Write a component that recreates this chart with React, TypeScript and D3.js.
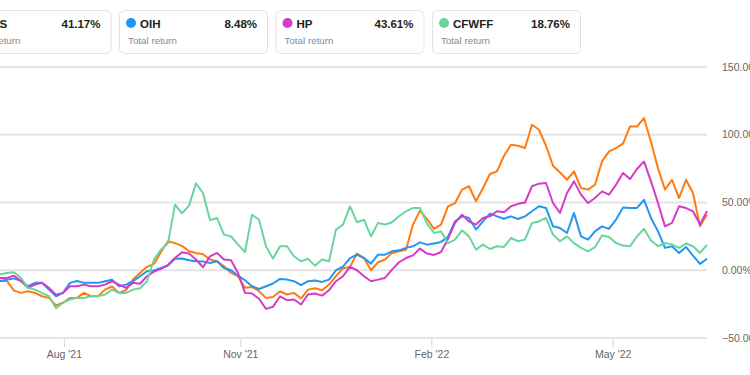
import { useMemo } from "react";
import * as d3 from "d3";

const W = 750;
const H = 375;

// total return (%) sampled along the visible window, left to right
const pds = [
  -8, -8, -15, -16.7, -15.5, -16.7, -19.2, -20.4, -26, -24, -20.4, -20.4, -16.7, -19.2, -19.2, -14.3, -12, -16.7,
  -14.7, -6.9, -2, 2.5, 4.7, 13.5, 21.4, 20, 18, 14, 12.8, 11.8, 7.9, 6.6, 2.9, -2,
  -4.4, -13, -12.3, -15.5, -20.4, -19.7, -15.7, -17.9, -16.7, -20.9, -14.3, -13.3, -14.7, -10.6, -4.4, 1.5, 2.5,
  12.3, 9, 0, 5.9, 7.9, 12.8, 14, 15.2, 33.7, 44, 37.8, 30.5, 33.7, 47.2, 49.6, 59.5, 62,
  50.9, 60.7, 71, 73, 84.5, 92.6, 91.9, 90.2, 107.4, 103.7, 91.9, 77.1, 72.2, 66.8, 73, 60.7, 59.5,
  63.1, 80.3, 87.7, 90.2, 93.4, 106.1, 106.1, 112.3, 94.6, 75.2, 59.5, 66.8, 53.3, 66.8, 57, 32.4, 41.17,
];
const oih = [
  -8, -7, -6, -8, -11.8, -9.3, -9.3, -14.3, -19.2, -16.7, -9.3, -8, -9.3, -9.3, -9.3, -8.1, -7, -11.8,
  -10.6, -8.1, -4.4, -0.7, -0.2, 1.7, 3.4, 8.4, 8.6, 7.4, 6.6, 6.4, 5.4, 6.6, 1.7, 0,
  -4, -7.4, -11.8, -13.8, -11.8, -9.8, -6.4, -6.9, -8.1, -11, -8.1, -7.6, -8.6, -6.9, 0, 2.7, 9,
  11.5, 9, 4.9, 11.5, 11.5, 14, 14.7, 16.5, 17.7, 20.6, 18.9, 19.7, 20.9, 24.6, 36, 39.8, 38.6,
  30, 36, 41.8, 39.8, 38, 39.8, 37.8, 39.8, 43.5, 47.2, 46, 32.4, 31.2, 27.5, 42.3, 25, 22.6,
  28.7, 32.4, 30.5, 37.3, 46.4, 46, 46, 52, 38.6, 28.7, 16.5, 17.7, 12.8, 17.2, 10.8, 4.7, 8.48,
];
const hp = [
  -5.7, -5.7, -4, -8, -13, -10.6, -9.3, -13, -18, -16.7, -11.8, -11.8, -10.6, -11.8, -11.8, -10.6, -8.1, -10.6,
  -13, -9.3, -10, -4.4, -1, 1, 4, 9, 13.3, 12.3, 7.9, 2.2, 10.3, 12.8, 7.9, 7.4,
  -2, -16.7, -17.2, -21, -28.5, -27, -19.2, -22.1, -21.6, -25.3, -17.9, -17.2, -18.7, -14.7, -8.1, -4.4, 2.5,
  0, -4.4, -8.1, -6.9, -5.7, 0.5, 5.9, 9, 11, 16, 12.3, 11.3, 13.5, 23.1, 34.9, 41, 36,
  33.7, 38.6, 39.8, 43.5, 42.8, 47.2, 49, 50, 62, 63.9, 64.4, 49.6, 42.3, 57, 65.6, 55.8, 49.6,
  53.3, 58.2, 55.8, 63.1, 71.7, 67.3, 74.7, 80.3, 65.6, 49.6, 32.4, 34.9, 47.2, 45.9, 43.5, 33.7, 43.61,
];
const cfwff = [
  -3, -2, -1.5, -5.7, -13, -14.3, -16.7, -19.2, -28, -24, -21.6, -20.4, -20.4, -19.2, -19.2, -18, -14.3, -16.7,
  -16.7, -14.3, -13.3, -8.1, 7.9, 15.2, 20, 48.4, 42, 47.7, 64, 57, 37, 38.6, 26.3, 25,
  18.9, 13.5, 41, 37.3, 17.7, 8.6, 17.7, 17.7, 10.3, 6.6, 8.4, 3.4, 7.9, 6.6, 30, 33.7, 47.2,
  35.4, 37.3, 25, 34.9, 33.7, 35.4, 39.8, 43.5, 46, 46, 34.4, 27.5, 28.7, 20, 22.6, 29.5, 25,
  15.2, 18.9, 15.7, 17.7, 17.2, 23.8, 21.4, 22.6, 34.9, 36, 38.6, 26.3, 21.4, 25, 20, 16.5, 14,
  17, 25.6, 24.6, 20.1, 18.2, 17.7, 25, 30.5, 21.9, 17.7, 20.1, 18.9, 16.5, 19.7, 17.7, 12.8, 18.76,
];

const tickers = ["PDS", "OIH", "HP", "CFWFF"];
const totals = ["41.17%", "8.48%", "43.61%", "18.76%"];
const colors = ["#ff7a0f", "#2196f3", "#d63ac8", "#68d59d"];
const series = [pds, oih, hp, cfwff];

const yTicks = [150, 100, 50, 0, -50];
const xTickLabels = ["Aug '21", "Nov '21", "Feb '22", "May '22"];
const xTickPos = [9.2, 34.4, 61.7, 87.6]; // in sample units

const FONT = "'Liberation Sans', Arial, sans-serif";

export default function App() {
  const n = pds.length;
  const x = useMemo(() => d3.scaleLinear().domain([0, n - 1]).range([0, 707]), [n]);
  const y = useMemo(() => d3.scaleLinear().domain([-50, 150]).range([338, 67]), []);
  const line = d3
    .line<number>()
    .x((_, i) => x(i))
    .y((d) => y(d))
    .curve(d3.curveLinear);

  const cardW = 148;
  const cardStep = 156.5;
  const cardX0 = -37.5;

  return (
    <div style={{ position: "fixed", left: 0, top: 0 }}>
      <svg width={W} height={H} style={{ display: "block", background: "#fff" }}>
        {/* legend cards */}
        {tickers.map((t, i) => {
          const cx = cardX0 + i * cardStep;
          return (
            <g key={t} transform={`translate(${cx},10)`}>
              <rect x={0.5} y={0.5} width={cardW} height={43} rx={5} fill="#fff" stroke="#e3e3e3" />
              <circle cx={12} cy={13} r={5} fill={colors[i]} />
              <text x={21} y={17.5} fontFamily={FONT} fontSize={11.5} fontWeight="bold" fill="#222">
                {t}
              </text>
              <text x={138} y={17.5} textAnchor="end" fontFamily={FONT} fontSize={11.5} fontWeight="bold" fill="#222">
                {totals[i]}
              </text>
              <text x={9} y={34} fontFamily={FONT} fontSize={9.8} fill="#8a8a8a">
                Total return
              </text>
            </g>
          );
        })}

        {/* grid + y labels */}
        {yTicks.map((v) => (
          <g key={v}>
            <line x1={0} x2={707} y1={y(v)} y2={y(v)} stroke="#e4e4e4" strokeWidth={2} />
            <text x={722} y={y(v)} dy="0.35em" fontFamily={FONT} fontSize={10.5} fill="#666">
              {d3.format(".2f")(v)}%
            </text>
          </g>
        ))}

        {/* x ticks */}
        {xTickPos.map((p, i) => (
          <g key={xTickLabels[i]}>
            <line x1={x(p)} x2={x(p)} y1={339} y2={347} stroke="#d6d6d6" />
            <text x={x(p)} y={358} textAnchor="middle" fontFamily={FONT} fontSize={10.5} fill="#666">
              {xTickLabels[i]}
            </text>
          </g>
        ))}

        {/* lines */}
        {series.map((s, i) => (
          <path
            key={tickers[i]}
            d={line(s) ?? ""}
            fill="none"
            stroke={colors[i]}
            strokeWidth={2}
            strokeLinejoin="round"
          />
        ))}
      </svg>
    </div>
  );
}
